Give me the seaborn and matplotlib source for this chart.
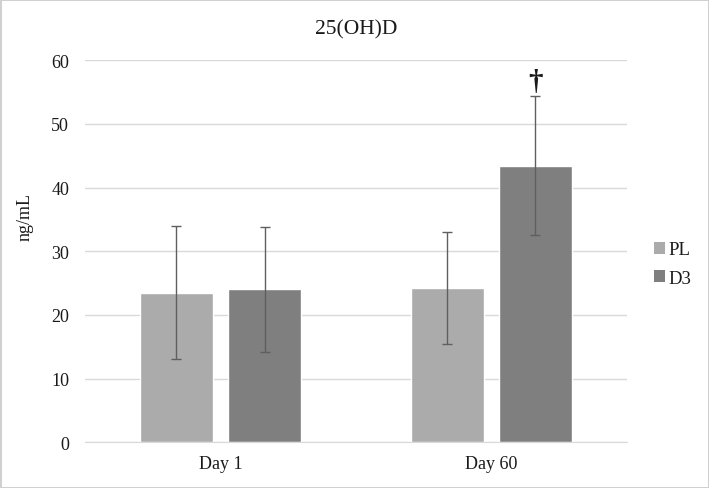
import matplotlib
matplotlib.use("Agg")
import matplotlib.pyplot as plt
import seaborn as sns
import pandas as pd
from matplotlib.patches import Patch

# values
days = ["Day 1", "Day 60"]
groups = ["PL", "D3"]
pl_mean = [23.5, 24.2]
d3_mean = [24.0, 43.4]
pl_sd = [10.4, 8.8]
d3_sd = [9.8, 10.9]

colors = {"PL": "#ababab", "D3": "#7f7f7f"}

df = pd.DataFrame({
    "Day": days + days,
    "Group": ["PL"] * 2 + ["D3"] * 2,
    "ng/mL": pl_mean + d3_mean,
    "sd": pl_sd + d3_sd,
})

sns.set_style("white")
plt.rcParams["font.family"] = ["Liberation Serif", "DejaVu Serif"]

fig = plt.figure(figsize=(7.09, 4.89), dpi=100)
ax = fig.add_axes([0.12, 0.0935, 0.764, 0.7815])

sns.barplot(data=df, x="Day", y="ng/mL", hue="Group", hue_order=groups,
            palette=colors, width=0.65, gap=0.17, errorbar=None,
            saturation=1, ax=ax, zorder=2, legend=False)

# error bars on top of the bars
sds = {"PL": pl_sd, "D3": d3_sd}
means = {"PL": pl_mean, "D3": d3_mean}
for g, cont in zip(groups, ax.containers):
    xs = [b.get_x() + b.get_width() / 2 for b in cont]
    ax.errorbar(xs, means[g], yerr=sds[g], fmt="none", ecolor="#5f5f5f",
                elinewidth=1, capsize=3.5, capthick=1, zorder=3)

# dagger over D3 day 60
ax.text(ax.containers[1][1].get_x() + ax.containers[1][1].get_width() / 2,
        d3_mean[1] + d3_sd[1] + 0.3, "\u2020", ha="center", va="bottom",
        fontsize=21, fontweight="bold", color="#1a1a1a")

ax.set_ylim(0, 60)
ax.set_xlim(-0.5, 1.5)
ax.set_yticks(range(0, 61, 10))
ax.grid(axis="y", color="#d9d9d9", linewidth=1, zorder=0)
ax.set_axisbelow(True)
for s in ["top", "right", "left"]:
    ax.spines[s].set_visible(False)
ax.spines["bottom"].set_color("#d9d9d9")
ax.tick_params(axis="both", length=0, labelsize=13, colors="#1a1a1a")
ax.tick_params(axis="y", pad=11.5)
ax.tick_params(axis="x", pad=9.5)
ax.set_xlabel("")
ax.set_ylabel("")
fig.text(25 / 709, 1 - 217 / 489, "ng/mL", rotation=90, ha="center",
         va="center", fontsize=13, color="#1a1a1a")
ax.set_title("25(OH)D", fontsize=15.5, color="#1a1a1a", pad=19)

handles = [Patch(facecolor=colors[g], edgecolor="none") for g in groups]
fig.legend(handles, groups, loc="center left", bbox_to_anchor=(0.898, 0.458),
           frameon=False, fontsize=13.5, handlelength=0.6, handleheight=0.6,
           handletextpad=0.2, labelspacing=0.6, labelcolor="#1a1a1a")

fig.patch.set_edgecolor("#d0d0d0")
fig.patch.set_linewidth(2)

fig.savefig("out.png", dpi=100, edgecolor=fig.get_edgecolor())
